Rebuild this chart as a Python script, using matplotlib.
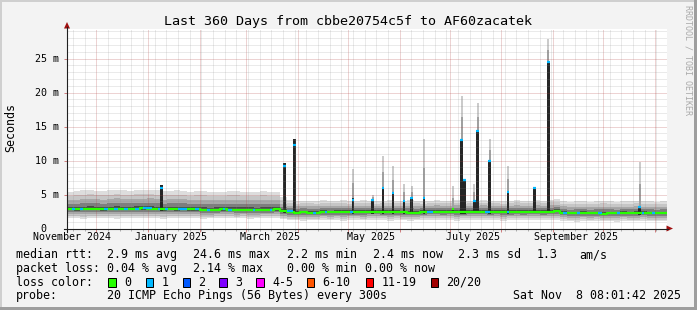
import numpy as np
import pandas as pd
import matplotlib
matplotlib.use("Agg")
import matplotlib.pyplot as plt
import matplotlib.dates as mdates
import matplotlib.transforms as mtransforms
from matplotlib.patches import Rectangle, Polygon
from matplotlib.lines import Line2D
from matplotlib.ticker import MultipleLocator, FuncFormatter

plt.rcParams['font.family'] = ['DejaVu Sans Mono']

# ---- data ----
start = pd.Timestamp("2024-11-13 08:01:42")
end = pd.Timestamp("2025-11-08 08:01:42")

# one value per 4-day step (90 steps = 360 days), ms
median_ms = [2.85, 2.80, 2.85, 2.90, 2.85, 2.80, 2.85, 2.90, 2.85, 2.85, 2.90, 2.95, 2.90, 2.85,
             2.80, 2.85, 2.80, 2.85, 2.80, 2.80, 2.75, 2.70,
             2.75, 2.80, 2.75, 2.70, 2.75, 2.75, 2.70, 2.75, 2.75, 2.80,
             2.55, 2.40, 2.35,
             2.40, 2.35, 2.35, 2.40, 2.40, 2.45, 2.40, 2.45, 2.45, 2.40, 2.45, 2.50, 2.45, 2.40,
             2.45, 2.40, 2.35, 2.25,
             2.45, 2.50, 2.45, 2.45, 2.50, 2.45, 2.45, 2.50, 2.50, 2.45, 2.45, 2.50, 2.45, 2.45,
             2.50, 2.45, 2.45, 2.50, 2.45, 2.50, 2.55,
             2.35, 2.25, 2.25, 2.30, 2.25, 2.25, 2.20, 2.25, 2.25, 2.30, 2.25, 2.25, 2.30, 2.25,
             2.25, 2.25]
smoke_hi_ms = [5.4, 5.5, 5.6, 5.6, 5.5, 5.5, 5.6, 5.7, 5.6, 5.5, 5.6, 5.6, 5.7, 5.6, 5.5,
               5.5, 5.6, 5.5, 5.4, 5.5, 5.5, 5.4, 5.3, 5.4, 5.5, 5.5, 5.4, 5.3, 5.4, 5.5,
               5.4, 5.3, 4.6,
               4.2, 4.0, 4.1, 4.1, 4.0, 4.2, 4.1, 4.1, 4.2, 4.0, 4.1, 4.2, 4.1, 4.0, 4.1,
               4.2, 4.1, 4.1, 4.2, 4.1, 4.0, 4.1, 4.2, 4.1, 4.1, 4.2, 4.0, 4.1, 4.1, 4.2,
               4.1, 4.1, 4.0, 4.1, 4.2, 4.1, 4.1, 4.2, 4.1, 4.2, 4.3,
               4.0, 3.9, 4.0, 4.0, 3.9, 4.0, 4.1, 4.0, 3.9, 4.0, 4.0, 4.1, 4.0, 4.0, 3.9, 4.0]
smoke_lo_ms = [1.50, 1.50, 1.45, 1.50, 1.55, 1.50, 1.50, 1.45, 1.50, 1.50, 1.55, 1.50, 1.50, 1.50, 1.45,
               1.50, 1.50, 1.55, 1.50, 1.50, 1.45, 1.50, 1.50, 1.50, 1.55, 1.50, 1.50, 1.45, 1.50, 1.50,
               1.50, 1.50, 1.35,
               1.20, 1.20, 1.15, 1.20, 1.20, 1.25, 1.20, 1.20, 1.15, 1.20, 1.20, 1.20, 1.25, 1.20, 1.20,
               1.15, 1.20, 1.20, 1.15, 1.20, 1.20, 1.20, 1.25, 1.20, 1.20, 1.15, 1.20, 1.20, 1.20, 1.25,
               1.20, 1.20, 1.15, 1.20, 1.20, 1.20, 1.25, 1.20, 1.20, 1.20, 1.20,
               1.05, 1.05, 1.00, 1.05, 1.05, 1.10, 1.05, 1.05, 1.00, 1.05, 1.05, 1.05, 1.10, 1.05, 1.05, 1.05]

# latency spikes: time, median, top of dense smoke, top of outlier smoke (ms)
spike_time = ["2025-01-08 22:00", "2025-03-23 20:00", "2025-03-29 20:00", "2025-05-03 22:00",
              "2025-05-15 18:00", "2025-05-21 22:00", "2025-05-27 22:00", "2025-06-03 13:00",
              "2025-06-08 03:00", "2025-06-15 13:00", "2025-07-02 22:00", "2025-07-08 03:00",
              "2025-07-09 22:00", "2025-07-15 20:00", "2025-07-17 18:00", "2025-07-24 22:00",
              "2025-08-04 22:00", "2025-08-20 18:00", "2025-08-29 03:00", "2025-10-22 22:00"]
spike_median = [5.9, 9.15, 12.35, 4.15, 4.15, 5.9, 5.15, 4.1, 4.5, 4.5,
                2.9, 13.0, 7.2, 4.1, 14.4, 9.9, 5.3, 5.95, 24.5, 3.2]
spike_dark_top = [6.4, 9.65, 13.1, 4.45, 4.3, 5.9, 5.15, 4.25, 4.65, 4.65,
                  2.9, 13.2, 7.35, 4.25, 14.45, 10.05, 5.3, 5.97, 24.65, 3.2]
spike_light_top = [6.4, 9.65, 13.1, 8.8, 5.0, 10.6, 9.15, 6.5, 6.2, 13.2,
                   6.2, 19.45, 7.35, 6.6, 18.4, 13.1, 9.15, 5.97, 27.8, 9.8]
spike_loss = [1, 1, 1, 1, 1, 1, 1, 1, 1, 1, 0, 1, 1, 1, 1, 1, 1, 1, 1, 1]

# periods where 1 of 20 pings was lost
loss1_start = ["2024-11-16 08:00", "2024-11-21 03:00", "2024-12-05 08:00", "2024-12-11 08:00",
               "2024-12-17 08:00", "2024-12-24 08:00", "2024-12-28 22:00", "2025-01-06 22:00",
               "2025-01-11 03:00", "2025-01-18 22:00", "2025-01-28 22:00", "2025-02-05 08:00",
               "2025-02-14 22:00", "2025-02-17 22:00", "2025-03-04 22:00", "2025-03-15 03:00",
               "2025-03-25 08:00", "2025-04-09 22:00", "2025-04-17 03:00", "2025-05-02 03:00",
               "2025-06-17 08:00", "2025-07-22 03:00", "2025-08-04 08:00", "2025-09-06 22:00",
               "2025-09-15 03:00", "2025-09-27 22:00", "2025-10-09 08:00", "2025-10-24 03:00",
               "2025-10-30 08:00"]
loss1_days = [1.8, 1.8, 2.6, 2.6, 2.6, 2.0, 5.4, 1.2, 1.8, 5.4, 2.4, 1.8, 1.2, 2.4, 1.2,
              1.2, 3.6, 1.8, 1.2, 1.8, 3.6, 3.0, 1.2, 2.4, 1.8, 2.4, 1.8, 1.2, 1.8]

month_labels = ["November 2024", "January 2025", "March 2025", "May 2025", "July 2025", "September 2025"]
month_label_time = ["2024-11-16 12:00", "2025-01-15", "2025-03-15", "2025-05-15", "2025-07-15", "2025-09-15"]

loss_names = ["0", "1", "2", "3", "4-5", "6-10", "11-19", "20/20"]
loss_colors = ["#26ff00", "#00b8ff", "#0059ff", "#7e00ff", "#ff00ff", "#ff5500", "#ff0000", "#a10000"]

assert len(median_ms) == len(smoke_hi_ms) == len(smoke_lo_ms) == 90

# ---- figure ----
W, H = 697, 310
def fx(x):
    return x / W
def fy(y):
    return 1 - y / H

fig = plt.figure(figsize=(W / 100, H / 100), dpi=100)
fig.patch.set_facecolor("#f3f3f3")
ax = fig.add_axes([fx(67), fy(228.5), 600 / W, 200 / H])
ax.set_facecolor("white")
ymax = 200 / 6.8

edges = pd.date_range(start, periods=len(median_ms) + 1, freq="4D")
t = mdates.date2num(edges)
med = np.append(median_ms, median_ms[-1])
hi = np.append(smoke_hi_ms, smoke_hi_ms[-1])
lo = np.append(smoke_lo_ms, smoke_lo_ms[-1])

# smoke, outer (light) to inner (dark)
band_frac = [1.0, 0.78, 0.54, 0.32, 0.14]
band_col = ["#dddddd", "#c6c6c6", "#a8a8a8", "#7e7e7e", "#4a4a4a"]
for f, c in zip(band_frac, band_col):
    ax.fill_between(t, med - f * (med - lo), med + f * (hi - med), step="post",
                    color=c, lw=0, zorder=1)

# spikes
day = 1.0
t0 = mdates.date2num(start)
for st, sm, sd, sl, sloss in zip(spike_time, spike_median, spike_dark_top, spike_light_top, spike_loss):
    ts = mdates.date2num(pd.Timestamp(st))
    base = median_ms[int((ts - t0) // 4)]
    if sl > sd:
        mid = sd + (sl - sd) * 0.5
        ax.bar(ts, mid - sd, bottom=sd, width=1.2 * day, color="#a0a0a0", lw=0, zorder=1.3)
        ax.bar(ts, sl - mid, bottom=mid, width=1.2 * day, color="#cbcbcb", lw=0, zorder=1.3)
    ax.bar(ts, sd - (base - 0.25), bottom=base - 0.25, width=1.6 * day,
           color="#262626", lw=0, zorder=1.4)
    ax.hlines(sm, ts - 0.8 * day, ts + 0.8 * day, color=loss_colors[sloss], lw=1.6, zorder=2.2)

# median line
ax.step(t, med, where="post", color=loss_colors[0], lw=1.6, zorder=2)
for ls, ld in zip(loss1_start, loss1_days):
    tl = mdates.date2num(pd.Timestamp(ls))
    v = median_ms[int((tl - t0) // 4)]
    ax.hlines(v, tl, tl + ld, color=loss_colors[1], lw=1.6, zorder=2.1)

ax.set_xlim(mdates.date2num(start), mdates.date2num(end))
ax.set_ylim(0, ymax)

# grid (over the smoke, under the median line)
ax.xaxis.set_major_locator(mdates.MonthLocator(bymonthday=1))
ax.xaxis.set_minor_locator(mdates.WeekdayLocator(byweekday=mdates.SU))
ax.yaxis.set_major_locator(MultipleLocator(5))
ax.yaxis.set_minor_locator(MultipleLocator(1))
dots = (0, (1, 1))
ax.grid(True, which="major", color="#b04040", alpha=0.45, lw=0.72, linestyle=dots)
ax.grid(True, which="minor", color="#8c8c8c", alpha=0.35, lw=0.72, linestyle=dots)
ax.set_axisbelow("line")
for s in ax.spines.values():
    s.set_visible(False)
ax.tick_params(axis="x", which="both", labelbottom=False, direction="out")
ax.tick_params(axis="x", which="major", length=2.2, width=0.72, color="#d08080")
ax.tick_params(axis="x", which="minor", length=1.5, width=0.72, color="#b0b0b0")
ax.tick_params(axis="y", which="major", length=2.2, width=0.72, color="#d08080",
               pad=3.4, labelsize=7.2, labelcolor="black")
ax.tick_params(axis="y", which="minor", length=0)
ax.yaxis.set_major_formatter(FuncFormatter(lambda v, p: "0  " if v == 0 else f"{v:.0f} m"))

# x labels
trans = mtransforms.blended_transform_factory(ax.transData, fig.transFigure)
for lab, lt in zip(month_labels, month_label_time):
    ax.text(mdates.date2num(pd.Timestamp(lt)), fy(237.5), lab, transform=trans,
            ha="center", va="center", fontsize=7.2, clip_on=False)

# axes with arrows
ax_col = "#202020"
fig.add_artist(Line2D([fx(64), fx(668)], [fy(228.5), fy(228.5)], color=ax_col, lw=0.8))
fig.add_artist(Line2D([fx(67), fx(67)], [fy(231.5), fy(27)], color=ax_col, lw=0.8))
fig.add_artist(Polygon([(fx(666.5), fy(225.5)), (fx(666.5), fy(231.5)), (fx(673), fy(228.5))],
                       closed=True, color="#a01010", lw=0))
fig.add_artist(Polygon([(fx(64), fy(28.5)), (fx(70), fy(28.5)), (fx(67), fy(22))],
                       closed=True, color="#a01010", lw=0))

# border bevel
fig.add_artist(Rectangle((0, fy(2)), 1, 2 / H, transform=fig.transFigure, color="#cfcfcf", lw=0))
fig.add_artist(Rectangle((0, 0), 2 / W, 1, transform=fig.transFigure, color="#cfcfcf", lw=0))
fig.add_artist(Rectangle((0, 0), 1, 3 / H, transform=fig.transFigure, color="#9e9e9e", lw=0))
fig.add_artist(Rectangle((fx(694), 0), 3 / W, 1, transform=fig.transFigure, color="#9e9e9e", lw=0))

# texts
fig.text(fx(348.5), fy(24.7), "Last 360 Days from cbbe20754c5f to AF60zacatek",
         ha="center", va="baseline", fontsize=9.6)
fig.text(fx(10.7), fy(128), "Seconds", rotation=90, ha="center", va="center", fontsize=8.4)
fig.text(fx(688.3), fy(5), "RRDTOOL / TOBI OETIKER", rotation=270, ha="center", va="top",
         fontsize=6, color="#aaaaaa")

lg = 8.4
rows = [
    (258.3, [(16, "median rtt:"), (107.3, "2.9 ms avg"), (193.3, "24.6 ms max"), (286.7, "2.2 ms min"),
             (372.7, "2.4 ms now"), (458.3, "2.3 ms sd"), (536.7, "1.3"), (579.3, "am/s")]),
    (271.8, [(16, "packet loss:"), (107.3, "0.04 % avg"), (193.3, "2.14 % max"), (286.7, "0.00 % min"),
             (365, "0.00 % now")]),
    (285.5, [(16, "loss color:")]),
    (299.0, [(16, "probe:"), (107.3, "20 ICMP Echo Pings (56 Bytes) every 300s"),
             (513.3, "Sat Nov  8 08:01:42 2025")]),
]
for yb, parts in rows:
    for xx, s in parts:
        fig.text(fx(xx), fy(yb), s, ha="left", va="baseline", fontsize=lg)

box_x = [108.3, 145.7, 182.7, 219.3, 256.3, 307, 365.7, 430.7]
for bx, name, col in zip(box_x, loss_names, loss_colors):
    fig.add_artist(Rectangle((fx(bx), fy(286.5)), 7.4 / W, 9 / H, transform=fig.transFigure,
                             facecolor=col, edgecolor="black", lw=0.72))
    fig.text(fx(bx + 15.7), fy(285.5), name, ha="left", va="baseline", fontsize=lg)

fig.savefig("out.png", dpi=100, facecolor=fig.get_facecolor())
